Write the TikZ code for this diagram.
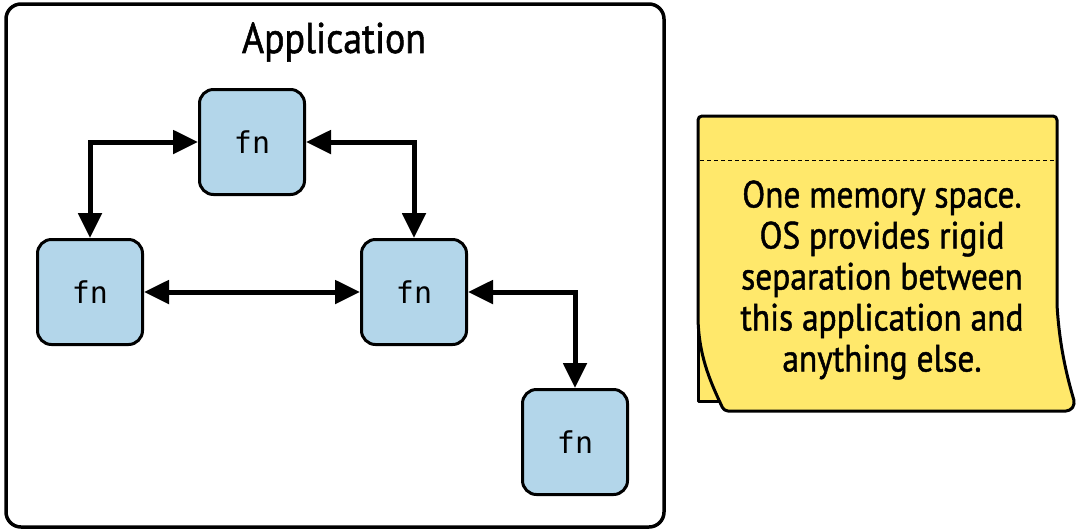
\documentclass[tikz,border=0pt]{standalone}
\usepackage{fontspec}
\setmainfont{PT Sans}[FakeStretch=0.88,FakeBold=1.2]
\setmonofont{DejaVu Sans Mono}
\usetikzlibrary{arrows.meta}
\definecolor{fnblue}{RGB}{179,214,234}
\definecolor{noteyellow}{RGB}{255,232,107}
\begin{document}
\begin{tikzpicture}[x=1pt,y=-1pt]

\def\sz{105pt}
\tikzstyle{fnbox} = [
	draw, fill=fnblue, rectangle, rounded corners=14pt, line width=3pt,
	minimum height=\sz, minimum width=\sz, font=\ttfamily\fontsize{30}{30}\selectfont ];
\tikzstyle{link} = [line width=5pt, {Triangle[length=25pt,width=23pt]}-{Triangle[length=25pt,width=23pt]}];
\tikzstyle{sheet} = [draw, fill=noteyellow, line width=3pt, line join=round];
\useasboundingbox (0,0) rectangle (1078,531);

\draw[line width=3.5pt, rounded corners=15pt] (6,4) rectangle (664,527);
\node (app) at (334,42) {\fontsize{43}{43}\selectfont Application};

\node[fnbox] (f0) at (252,142) {fn};
\node[fnbox] (f1) at (90,292) {fn};
\node[fnbox] (f2) at (414,292) {fn};
\node[fnbox] (f3) at (575,442) {fn};

\draw[link] (f0.west) -| (f1.north);
\draw[link] (f0.east) -| (f2.north);
\draw[link] (f1.east) -- (f2.west);
\draw[link] (f2.east) -| (f3.north);

\draw[sheet] (698,280) -- (698,401) -- (730,401) -- (730,280) -- cycle;
\draw[sheet, rounded corners=4pt] (698,116) -- (1057,116) -- (1057,305)
	.. controls (1060,350) and (1068,380) .. (1075,404) -- (1070,411) -- (724,411)
	.. controls (712,385) and (700,360) .. (698,320) -- cycle;
\draw[line width=0.8pt, dash pattern=on 4pt off 3pt] (700,160) -- (1055,160);
\node[align=center, font=\fontsize{38}{41}\selectfont] (note) at (882,280)
	{One memory space.\\OS provides rigid\\separation between\\this application and\\anything else.};

\end{tikzpicture}
\end{document}
